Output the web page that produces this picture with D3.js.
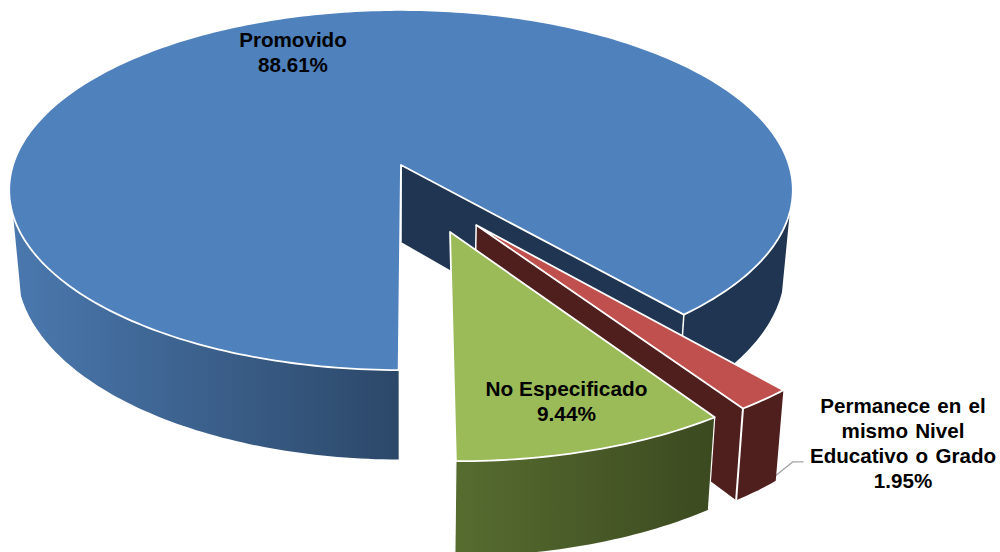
<!DOCTYPE html>
<html><head><meta charset="utf-8">
<script src="https://cdn.jsdelivr.net/npm/d3@7"></script>
<style>html,body{margin:0;padding:0;background:#fff}svg{display:block}text{font-family:"Liberation Sans",Arial,sans-serif;font-weight:700;fill:#000}</style>
</head><body><div id="c"></div>
<script>
const categories = ["Promovido", "Permanece en el mismo Nivel Educativo o Grado", "No Especificado"];
const values = [88.61, 1.95, 9.44];

// layout of the 3D view
const W = 1000, H = 552;
const view = {cx: 401, cy: 165, rx: 388, ry: 176.6, persp: 0.139, depth: 77, shrink: 0.02};
const explode = [[0, 0], [0.185, 0.325], [0.12, 0.36]];
const deg = Math.PI / 180;
const startAngle = 180.3 * deg;
const wallLimits = [164 * deg, 375 * deg];

const svg = d3.select("#c").append("svg").attr("width", W).attr("height", H).attr("viewBox", `0 0 ${W} ${H}`);
const defs = svg.append("defs");
function grad(id, x1, x2, c1, c2) {
  const g = defs.append("linearGradient").attr("id", id).attr("gradientUnits", "userSpaceOnUse")
    .attr("x1", x1).attr("x2", x2).attr("y1", 0).attr("y2", 0);
  g.append("stop").attr("offset", 0).attr("stop-color", c1);
  g.append("stop").attr("offset", 1).attr("stop-color", c2);
}
grad("gBlue", 15, 397, "#4a78ae", "#2c4869");
grad("gGreen", 456, 712, "#566c2f", "#3c4a20");

function project(u, v, z) {
  const w = 1 - view.persp * v;
  return [view.cx + view.rx * u / w * (1 - view.shrink * z), view.cy + (view.ry * v + view.depth * z) / w];
}
const pathLine = d3.line();
const pies = d3.pie().sort(null).startAngle(startAngle).endAngle(startAngle + 2 * Math.PI)(values);

function rimPts(i, a0, a1, z) {
  const [ou, ov] = explode[i];
  const n = Math.max(2, Math.ceil(Math.abs(a1 - a0) / deg) + 1);
  return d3.range(n).map(k => {
    const a = a0 + (a1 - a0) * k / (n - 1);
    return project(ou + Math.cos(a), ov + Math.sin(a), z);
  });
}
const apex = (i, z) => project(explode[i][0], explode[i][1], z);
const scr = a => a - Math.PI / 2;
function face(pts, fill, stroke, sw) {
  return svg.append("path").attr("d", pathLine(pts) + "Z").attr("fill", fill)
    .attr("stroke", stroke || "none").attr("stroke-width", sw || 0).attr("stroke-linejoin", "round");
}
function edge(pts, sw, col) {
  svg.append("path").attr("d", pathLine(pts)).attr("fill", "none").attr("stroke", col || "#fff").attr("stroke-width", sw || 1.5);
}
function wall(i, a0, a1, fill) {
  face(rimPts(i, a0, a1, 0).concat(rimPts(i, a0, a1, 1).reverse()), fill);
}
function cut(i, a, fill) {
  face([apex(i, 0), rimPts(i, a, a, 0)[0], rimPts(i, a, a, 1)[0], apex(i, 1)], fill);
}
function topFace(i, a0, a1, fill) {
  face([apex(i, 0)].concat(rimPts(i, a0, a1, 0)), fill, "#fff", 1.8);
}

const [blue, red, green] = pies;
const b0 = scr(blue.startAngle), b1 = scr(blue.endAngle);
const r0 = scr(red.startAngle), r1 = scr(red.endAngle);
const g0 = scr(green.startAngle), g1 = scr(green.endAngle);

// Promovido
cut(0, b1, "#1f3551");
wall(0, b1, wallLimits[1], "#1f3551");
wall(0, b0, wallLimits[0], "url(#gBlue)");
edge([apex(0, 0), apex(0, 1)], 1.5);
edge([rimPts(0, b1, b1, 0)[0], rimPts(0, b1, b1, 1)[0]], 1.5);
topFace(0, b0, b1, "#4f81bd");

// leader from the small slice to its label
const lead = rimPts(1, (r0 + r1) / 2, (r0 + r1) / 2, 1)[0];
svg.append("path").attr("d", pathLine([lead, [lead[0] + 36, lead[1] - 29], [lead[0] + 47, lead[1] - 29]]))
  .attr("fill", "none").attr("stroke", "#a6a6a6").attr("stroke-width", 1.3);

// Permanece
cut(1, r1, "#4f1f1d");
wall(1, r0, r1, "#4f1f1d");
edge([apex(1, 0), apex(1, 1)], 1.5);
edge([rimPts(1, r1, r1, 0)[0], rimPts(1, r1, r1, 1)[0]], 2);
topFace(1, r0, r1, "#c0504d");

// No Especificado
wall(2, g0, g1, "url(#gGreen)");
edge([rimPts(2, g0, g0, 0)[0], rimPts(2, g0, g0, 1)[0]], 1.2);
edge([rimPts(2, g1, g1, 0)[0], rimPts(2, g1, g1, 1)[0]], 1.2);
topFace(2, g0, g1, "#9bbb59");

// Labels
const labelLines = [["Promovido", "88.61%"], ["Permanece en el", "mismo Nivel", "Educativo o Grado", "1.95%"], ["No Especificado", "9.44%"]];
const labelPos = [[293, 47], [903, 413], [566.5, 396]];
const labelSize = [20.6, 20.6, 20.8];
labelLines.forEach((ls, i) => {
  const t = svg.append("text").attr("text-anchor", "middle").attr("font-size", labelSize[i]).attr("word-spacing", i === 1 ? 1.5 : 0);
  ls.forEach((s, k) => t.append("tspan").attr("x", labelPos[i][0]).attr("y", labelPos[i][1] + k * 25).text(s));
});
</script></body></html>
